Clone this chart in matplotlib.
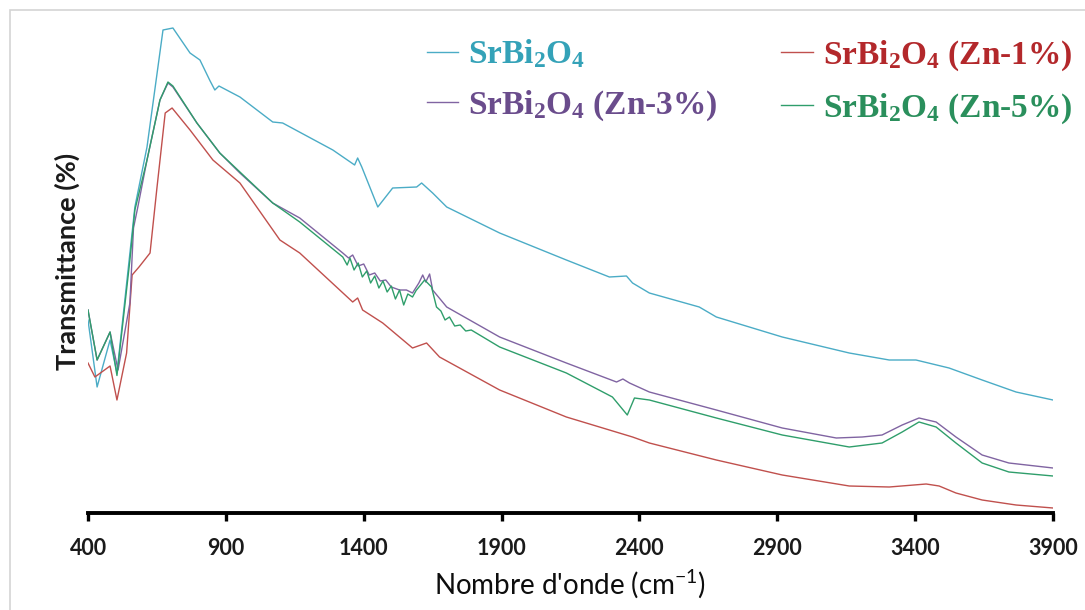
import matplotlib
matplotlib.use("Agg")
import matplotlib.pyplot as plt
from matplotlib.patches import Rectangle

# ---------------- data (wavenumber cm-1, transmittance arbitrary %) ----------------
wn_pure = [400, 433, 480, 505, 552, 570, 614, 672, 708, 770, 806, 842, 860, 875, 951, 1070, 1106,
           1288, 1367, 1378, 1393, 1451, 1505, 1592, 1610, 1650, 1701, 1893, 2135, 2291, 2353, 2375,
           2436, 2617, 2679, 2918, 3161, 3306, 3403, 3523, 3643, 3766, 3900]
t_pure = [38.6, 25.2, 34.6, 28.0, 52.0, 61.2, 73.2, 96.6, 97.0, 92.0, 90.6, 86.5, 84.6, 85.4, 83.2, 78.2, 78.0,
          72.6, 69.6, 71.0, 69.2, 61.2, 65.0, 65.2, 66.0, 64.0, 61.2, 56.0, 50.6, 47.2, 47.4, 46.0,
          44.0, 41.2, 39.2, 35.2, 32.0, 30.6, 30.6, 29.0, 26.6, 24.2, 22.6]

wn_zn1 = [400, 425, 480, 505, 540, 560, 585, 625, 650, 680, 705, 770, 853, 951, 1096, 1168, 1360, 1378,
          1396, 1469, 1577, 1628, 1675, 1893, 2135, 2375, 2436, 2679, 2918, 3161, 3306, 3440, 3487,
          3548, 3643, 3766, 3900]
t_zn1 = [30.0, 27.2, 29.4, 22.6, 32.0, 47.6, 49.2, 52.0, 65.0, 80.0, 81.0, 76.6, 70.6, 66.0, 54.6, 52.0, 42.2, 43.0,
         40.6, 38.0, 33.0, 34.0, 31.2, 24.6, 19.2, 15.2, 14.0, 10.6, 7.6, 5.4, 5.2, 5.8, 5.4,
         4.0, 2.6, 1.6, 1.0]

wn_zn3 = [400, 433, 480, 509, 552, 565, 580, 614, 661, 690, 708, 795, 878, 951, 1070, 1168, 1324, 1345,
          1360, 1380, 1400, 1420, 1440, 1460, 1480, 1500, 1530, 1555, 1577, 1600, 1614, 1625, 1639, 1650,
          1701, 1893, 2135, 2317, 2340, 2364, 2436, 2679, 2918, 3114, 3208, 3280, 3353, 3414, 3476, 3548,
          3643, 3740, 3900]
t_zn3 = [40.6, 30.6, 36.2, 28.6, 42.0, 57.0, 61.0, 70.6, 82.6, 86.0, 85.2, 78.0, 72.0, 68.0, 62.0, 59.0, 52.0, 51.0,
         51.6, 49.4, 49.8, 47.6, 48.0, 46.4, 46.6, 45.2, 44.6, 44.6, 44.0, 46.0, 47.6, 46.2, 47.8, 44.6,
         41.2, 35.2, 30.0, 26.2, 26.8, 26.0, 24.2, 20.6, 17.0, 15.0, 15.2, 15.6, 17.6, 19.0, 18.2, 15.2,
         11.6, 10.0, 9.0]

wn_zn5 = [400, 433, 480, 505, 552, 570, 614, 661, 690, 708, 795, 878, 951, 1070, 1168, 1324, 1340, 1350,
          1365, 1380, 1395, 1411, 1425, 1440, 1455, 1470, 1485, 1500, 1515, 1530, 1545, 1560, 1577, 1590,
          1621, 1646, 1664, 1680, 1695, 1711, 1730, 1750, 1770, 1790, 1893, 2135, 2302, 2356, 2382, 2436,
          2679, 2918, 3161, 3280, 3353, 3414, 3476, 3548, 3643, 3740, 3900]
t_zn5 = [40.6, 30.6, 36.2, 27.5, 50.6, 60.6, 70.6, 82.6, 86.2, 85.4, 78.0, 72.0, 68.2, 62.0, 58.2, 51.2, 49.6, 51.0,
         48.6, 50.0, 47.2, 48.4, 46.0, 47.4, 45.0, 46.4, 44.2, 45.4, 42.8, 44.6, 41.6, 43.8, 43.2, 44.5,
         46.6, 45.2, 41.2, 40.4, 38.6, 39.2, 37.4, 37.6, 36.4, 36.6, 33.2, 28.0, 23.2, 19.6, 23.0, 22.6,
         19.0, 15.6, 13.2, 14.0, 16.2, 18.2, 17.2, 14.0, 10.0, 8.2, 7.4]

labels = ["SrBi$_2$O$_4$", "SrBi$_2$O$_4$ (Zn-1%)", "SrBi$_2$O$_4$ (Zn-3%)", "SrBi$_2$O$_4$ (Zn-5%)"]
line_colors = ["#4bacc6", "#c0504d", "#8064a2", "#2f9e6b"]
text_colors = ["#34a2b8", "#b3282b", "#6a4c8c", "#2a8f5c"]
xticks = [400, 900, 1400, 1900, 2400, 2900, 3400, 3900]

# ---------------- figure ----------------
plt.rcParams["mathtext.default"] = "regular"
fig = plt.figure(figsize=(10.85, 6.10), dpi=100)
fig.patches.append(Rectangle((10 / 1085, -0.1), 1.2, 1 - 10 / 610 + 0.1, transform=fig.transFigure,
                             fill=False, edgecolor="#d4d4d4", linewidth=1.2))
ax = fig.add_axes([88 / 1085, 1 - 513 / 610, (1053 - 88) / 1085, (513 - 10) / 610])

series = [(wn_pure, t_pure), (wn_zn1, t_zn1), (wn_zn3, t_zn3), (wn_zn5, t_zn5)]
lines = []
for (x, y), c, lab in zip(series, line_colors, labels):
    ln, = ax.plot(x, y, color=c, lw=1.0, label=lab)
    lines.append(ln)

ax.set_xlim(400, 3900)
ax.set_ylim(0, 100.6)
ax.set_xticks(xticks)
ax.set_xticklabels([str(v) for v in xticks], fontfamily="Lato", fontweight="bold", fontsize=15.5, color="#1a1a1a")
ax.set_yticks([])
for s in ["left", "top", "right"]:
    ax.spines[s].set_visible(False)
ax.spines["bottom"].set_linewidth(2.8)
ax.tick_params(axis="x", direction="out", length=6, width=2.4, pad=12)
ax.set_xlabel("Nombre d'onde (cm$^{-1}$)", fontfamily="Lato", fontsize=20, color="#0d0d0d", labelpad=6)
ax.set_ylabel("Transmittance (%)", fontfamily="Lato", fontweight="bold", fontsize=19.5,
              color="#1a1a1a", labelpad=6)

order = [0, 2, 1, 3]
leg = ax.legend([lines[i] for i in order], [labels[i] for i in order], ncol=2, frameon=False,
                loc="upper left", bbox_to_anchor=(410 / 1085, 1 - 21 / 610), bbox_transform=fig.transFigure,
                prop={"family": "Liberation Serif", "weight": "bold", "size": 24},
                handlelength=0.95, handletextpad=0.3, columnspacing=1.9, labelspacing=0.55, borderpad=0)
for txt, i in zip(leg.get_texts(), order):
    txt.set_color(text_colors[i])

fig.savefig("out.png", dpi=100)
